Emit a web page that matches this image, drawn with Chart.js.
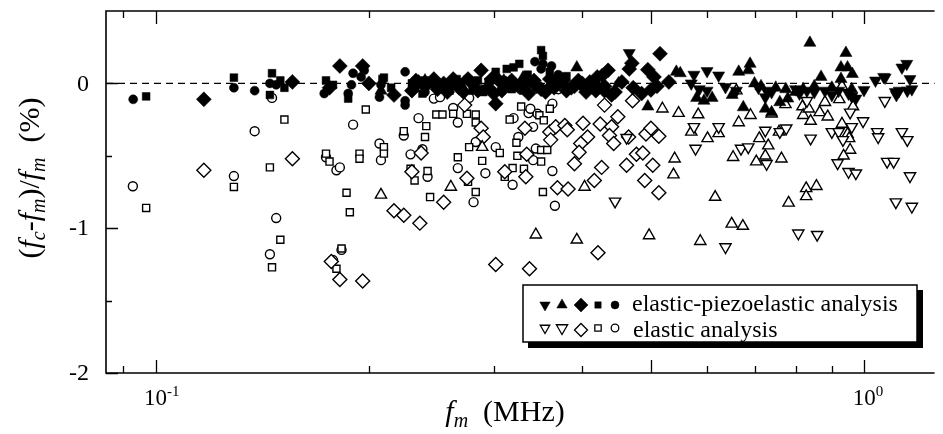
<!DOCTYPE html>
<html>
<head>
<meta charset="utf-8">
<script src="https://cdn.jsdelivr.net/npm/chart.js@4/dist/chart.umd.min.js"></script>
<style>
  html, body { margin: 0; padding: 0; background: #fff; overflow: hidden; }
  #wrap { width: 943px; height: 434px; }
</style>
</head>
<body>
<div id="wrap"><canvas id="c" width="943" height="434"></canvas></div>
<script>
// axis ranges and ticks
var xMin = 0.08514, xMax = 1.2566;
var yMin = -2, yMax = 0.5;
var xLongTicks = [0.1, 0.5, 1];
var xShortTicks = [0.09, 0.2, 0.3, 0.4, 0.6, 0.7, 0.8, 0.9];
var xTickLabels = [[0.1, '-1'], [1, '0']];
var yMajorTicks = [0, -1, -2];
var yMinorTicks = [-0.5, -1.5];

// elastic-piezoelastic analysis (filled) : [f_m (MHz), deviation (%)]
var epCircle = [[0.093,-0.11],[0.129,-0.03],[0.138,-0.05],[0.145,0.0],[0.148,-0.01],[0.173,-0.07],
  [0.187,-0.07],[0.19,0.07],[0.189,-0.01],[0.195,0.045],[0.197,0.09],[0.207,-0.095],[0.208,-0.01],
  [0.225,0.08],[0.225,-0.15],[0.225,-0.12],[0.232,-0.03],[0.245,0.0],[0.26,-0.02],[0.275,0.03],
  [0.29,-0.04],[0.31,0.02],[0.333,0.03],[0.343,0.15],[0.352,0.135],[0.362,0.12],[0.35,0.1],
  [0.37,0.06],[0.36,-0.02],[0.384,-0.03],[0.41,0.0],[0.24,-0.06],[0.3,0.04],[0.345,-0.03]];
var epSquare = [[0.097,-0.09],[0.129,0.04],[0.146,0.07],[0.145,-0.08],[0.15,0.02],[0.152,-0.03],
  [0.174,0.02],[0.178,-0.01],[0.187,-0.105],[0.21,0.04],[0.209,0.03],[0.215,-0.03],[0.24,0.02],
  [0.255,-0.02],[0.266,0.03],[0.28,-0.05],[0.302,0.08],[0.313,0.1],[0.32,0.11],[0.326,0.135],
  [0.35,0.23],[0.352,0.19],[0.34,0.0],[0.318,-0.04],[0.295,0.01],[0.36,0.08],[0.38,0.05],
  [0.23,0.0],[0.26,-0.05],[0.285,0.02],[0.33,-0.05],[0.365,-0.01],[0.238,-0.07],[0.27,0.0],
  [0.29,-0.06],[0.31,-0.02],[0.335,0.06]];
var epDiamond = [[0.117,-0.11],[0.156,0.01],[0.182,0.12],[0.196,0.12],[0.176,-0.03],[0.2,0.0],
  [0.217,-0.08],[0.235,0.01],[0.25,-0.04],[0.263,0.03],[0.272,-0.06],[0.288,0.09],[0.3,-0.07],
  [0.302,-0.14],[0.312,0.0],[0.336,-0.07],[0.345,-0.02],[0.37,0.0],[0.39,-0.02],[0.4,0.0],
  [0.405,-0.06],[0.418,-0.05],[0.42,0.045],[0.435,0.09],[0.43,-0.02],[0.427,0.055],[0.445,-0.06],
  [0.455,0.01],[0.466,0.10],[0.47,0.14],[0.472,-0.03],[0.485,-0.07],[0.495,0.095],[0.5,-0.045],
  [0.505,0.045],[0.515,0.205],[0.51,-0.02],[0.53,0.01],[0.44,-0.08],[0.23,-0.05],[0.24,-0.02],
  [0.255,0.0],[0.268,-0.03],[0.28,0.0],[0.295,-0.03],[0.305,0.02],[0.325,-0.02],[0.35,-0.04],
  [0.36,0.03],[0.38,-0.05],[0.395,0.02],[0.41,0.01],[0.43,-0.05],[0.233,0.02],[0.247,0.03],
  [0.258,-0.06],[0.276,0.03],[0.285,-0.05],[0.298,0.03],[0.308,-0.05],[0.318,0.02],[0.33,-0.01],
  [0.342,0.02],[0.355,-0.06],[0.365,-0.03],[0.376,0.02],[0.386,-0.03],[0.403,-0.03],[0.415,0.0]];
var epUp = [[0.208,-0.05],[0.24,0.02],[0.27,-0.01],[0.31,0.02],[0.32,-0.03],[0.33,0.04],[0.393,0.11],
  [0.37,0.03],[0.45,0.0],[0.495,-0.16],[0.543,0.08],[0.55,0.07],[0.58,-0.1],[0.594,-0.12],[0.61,-0.1],
  [0.651,-0.08],[0.665,0.08],[0.69,0.135],[0.686,0.09],[0.675,-0.165],[0.7,0.0],[0.715,-0.02],
  [0.725,-0.175],[0.74,-0.2],[0.75,-0.03],[0.76,-0.13],[0.78,-0.105],[0.775,-0.04],[0.838,0.28],
  [0.869,0.045],[0.942,0.21],[0.927,0.11],[0.947,0.11],[0.962,0.065],[0.927,0.03],[0.9,-0.03],
  [0.85,-0.02],[0.82,-0.04],[0.8,-0.06],[0.96,-0.04]];
var epDown = [[0.466,0.21],[0.575,0.06],[0.6,0.085],[0.57,0.0],[0.585,-0.04],[0.623,0.055],
  [0.637,-0.025],[0.66,-0.05],[0.709,-0.03],[0.728,-0.05],[0.725,-0.095],[0.74,-0.06],[0.8,-0.04],
  [0.81,-0.07],[0.83,-0.05],[0.85,-0.06],[0.88,-0.05],[0.9,-0.08],[0.92,-0.05],[0.95,-0.07],
  [0.96,-0.09],[0.973,-0.105],[0.999,-0.045],[1.037,0.02],[1.065,0.045],[1.07,0.04],[1.106,-0.06],
  [1.12,-0.05],[1.13,0.11],[1.148,0.135],[1.16,0.03],[1.15,-0.05],[1.167,-0.04],[1.11,-0.08],[0.6,-0.05]];

// elastic analysis (open)
var eCircle = [[0.0929,-0.71],[0.138,-0.33],[0.146,-0.10],[0.129,-0.64],[0.148,-0.93],[0.145,-1.18],
  [0.19,-0.285],[0.174,-0.51],[0.18,-0.60],[0.182,-0.58],[0.207,-0.415],[0.208,-0.53],[0.235,-0.24],
  [0.224,-0.36],[0.229,-0.49],[0.238,-0.455],[0.242,-0.645],[0.247,-0.105],[0.252,-0.095],
  [0.263,-0.17],[0.267,-0.27],[0.277,-0.10],[0.283,-0.405],[0.302,-0.44],[0.267,-0.585],
  [0.292,-0.62],[0.281,-0.82],[0.319,-0.70],[0.325,-0.37],[0.32,-0.24],[0.336,-0.205],[0.338,-0.175],
  [0.341,-0.30],[0.346,-0.21],[0.363,-0.14],[0.35,-0.035],[0.344,-0.45],[0.341,-0.53],[0.363,-0.605],
  [0.366,-0.845],[0.183,-1.15],[0.178,-1.22],[0.37,-0.04]];
var eSquare = [[0.097,-0.86],[0.129,-0.715],[0.145,-0.58],[0.152,-0.25],[0.150,-1.08],[0.146,-1.27],
  [0.198,-0.18],[0.174,-0.485],[0.176,-0.54],[0.194,-0.485],[0.194,-0.52],[0.186,-0.755],[0.188,-0.89],
  [0.21,-0.44],[0.21,-0.485],[0.224,-0.33],[0.241,-0.295],[0.24,-0.37],[0.229,-0.59],[0.232,-0.67],
  [0.242,-0.605],[0.244,-0.785],[0.249,-0.215],[0.254,-0.215],[0.263,-0.21],[0.275,-0.21],
  [0.283,-0.215],[0.283,-0.27],[0.277,-0.44],[0.306,-0.48],[0.267,-0.51],[0.289,-0.535],[0.276,-0.68],
  [0.283,-0.75],[0.311,-0.645],[0.319,-0.585],[0.331,-0.59],[0.324,-0.50],[0.323,-0.41],[0.316,-0.25],
  [0.328,-0.16],[0.348,-0.22],[0.353,-0.255],[0.36,-0.175],[0.35,-0.46],[0.357,-0.46],[0.35,-0.54],
  [0.352,-0.75],[0.183,-1.14],[0.18,-1.28]];
var eDiamond = [[0.117,-0.60],[0.156,-0.52],[0.217,-0.88],[0.224,-0.91],[0.236,-0.965],[0.237,-0.48],
  [0.23,-0.61],[0.255,-0.82],[0.273,-0.15],[0.288,-0.31],[0.29,-0.37],[0.275,-0.655],[0.311,-0.61],
  [0.333,-0.645],[0.334,-0.49],[0.332,-0.31],[0.36,-0.335],[0.361,-0.39],[0.367,-0.30],[0.378,-0.29],
  [0.381,-0.32],[0.369,-0.72],[0.382,-0.73],[0.39,-0.555],[0.401,-0.275],[0.407,-0.37],[0.398,-0.415],
  [0.396,-0.475],[0.424,-0.28],[0.43,-0.15],[0.426,-0.58],[0.416,-0.67],[0.44,-0.30],[0.437,-0.36],
  [0.443,-0.415],[0.449,-0.23],[0.471,-0.12],[0.465,-0.37],[0.492,-0.35],[0.5,-0.31],[0.513,-0.365],
  [0.477,-0.49],[0.487,-0.48],[0.462,-0.565],[0.503,-0.565],[0.49,-0.67],[0.513,-0.755],[0.302,-1.25],
  [0.337,-1.28],[0.421,-1.17],[0.177,-1.23],[0.182,-1.355],[0.196,-1.365]];
var eUp = [[0.208,-0.77],[0.261,-0.715],[0.289,-0.44],[0.403,-0.715],[0.344,-1.045],[0.393,-1.08],
  [0.519,-0.175],[0.547,-0.205],[0.583,-0.215],[0.57,-0.335],[0.601,-0.38],[0.623,-0.345],[0.54,-0.52],
  [0.538,-0.63],[0.616,-0.785],[0.497,-1.05],[0.587,-1.09],[0.65,-0.97],[0.674,-0.985],[0.665,-0.27],
  [0.691,-0.22],[0.653,-0.51],[0.711,-0.38],[0.732,-0.43],[0.725,-0.50],[0.704,-0.54],[0.764,-0.52],
  [0.758,-0.335],[0.74,-0.21],[0.774,-0.145],[0.818,-0.16],[0.82,-0.22],[0.84,-0.26],[0.835,-0.175],
  [0.865,-0.2],[0.88,-0.13],[0.888,-0.23],[0.93,-0.28],[0.922,-0.11],[0.964,-0.16],[0.947,-0.35],
  [0.952,-0.38],[0.955,-0.46],[0.935,-0.50],[0.782,-0.825],[0.828,-0.725],[0.828,-0.78],[0.856,-0.71],
  [0.66,-0.05],[0.93,-0.02]];
var eDown = [[0.445,-0.815],[0.462,-0.375],[0.575,-0.30],[0.578,-0.45],[0.623,-0.30],[0.67,-0.45],
  [0.686,-0.44],[0.725,-0.325],[0.728,-0.555],[0.76,-0.335],[0.776,-0.31],[0.83,-0.12],[0.84,-0.38],
  [0.9,-0.335],[0.92,-0.335],[0.955,-0.2],[0.96,-0.30],[0.996,-0.26],[0.933,-0.39],[0.917,-0.55],
  [0.95,-0.61],[0.973,-0.62],[1.043,-0.335],[1.046,-0.37],[1.069,-0.12],[1.13,-0.335],[1.15,-0.39],
  [1.077,-0.54],[1.1,-0.54],[1.16,-0.64],[1.108,-0.82],[1.167,-0.85],[0.637,-1.13],[0.807,-1.035],
  [0.858,-1.045]];

var SERIF = '"Liberation Serif", "Times New Roman", serif';

function toXY(arr) {
    return arr.map(function (p) { return {x: p[0], y: p[1]}; });
}

function filledSet(arr, style, r, rot) {
    return {
        data: toXY(arr), pointStyle: style, pointRadius: r, pointRotation: rot || 0,
        backgroundColor: '#000', borderColor: '#000', borderWidth: 0.5
    };
}
function openSet(arr, style, r, rot) {
    return {
        data: toXY(arr), pointStyle: style, pointRadius: r, pointRotation: rot || 0,
        backgroundColor: '#fff', borderColor: '#000', borderWidth: 1.4
    };
}

// draw text made of several runs (italic, subscript, ...)
function runsWidth(ctx, runs) {
    var w = 0;
    runs.forEach(function (r) { ctx.font = r.font; w += ctx.measureText(r.t).width; });
    return w;
}
function drawRuns(ctx, runs, x, y) {
    var cx = x - runsWidth(ctx, runs) / 2;
    runs.forEach(function (r) {
        ctx.font = r.font;
        ctx.fillText(r.t, cx, y + (r.dy || 0));
        cx += ctx.measureText(r.t).width;
    });
}

var decorPlugin = {
    id: 'decor',
    beforeDatasetsDraw: function (chart) {
        var ctx = chart.ctx, a = chart.chartArea, ys = chart.scales.y;
        var y0 = ys.getPixelForValue(0);
        ctx.save();
        ctx.strokeStyle = '#000';
        ctx.lineWidth = 1.2;
        ctx.setLineDash([7, 5]);
        ctx.beginPath();
        ctx.moveTo(a.left, y0);
        ctx.lineTo(a.right, y0);
        ctx.stroke();
        ctx.restore();
    },
    afterDraw: function (chart) {
        var ctx = chart.ctx, a = chart.chartArea;
        var xs = chart.scales.x, ys = chart.scales.y;
        ctx.save();
        ctx.strokeStyle = '#000';
        ctx.fillStyle = '#000';
        ctx.lineWidth = 1.6;

        // frame: left, top, bottom
        ctx.beginPath();
        ctx.moveTo(a.right, a.top); ctx.lineTo(a.left, a.top);
        ctx.lineTo(a.left, a.bottom); ctx.lineTo(a.right, a.bottom);
        ctx.stroke();

        // x ticks, inward on top and bottom
        ctx.lineWidth = 1.3;
        ctx.beginPath();
        xLongTicks.forEach(function (v) {
            var px = Math.round(xs.getPixelForValue(v)) + 0.5;
            ctx.moveTo(px, a.top); ctx.lineTo(px, a.top + 13);
            ctx.moveTo(px, a.bottom); ctx.lineTo(px, a.bottom - 13);
        });
        xShortTicks.forEach(function (v) {
            var px = Math.round(xs.getPixelForValue(v)) + 0.5;
            ctx.moveTo(px, a.top); ctx.lineTo(px, a.top + 7);
            ctx.moveTo(px, a.bottom); ctx.lineTo(px, a.bottom - 7);
        });
        // y ticks on left
        yMajorTicks.forEach(function (v) {
            var py = Math.round(ys.getPixelForValue(v)) + 0.5;
            ctx.moveTo(a.left, py); ctx.lineTo(a.left + 12, py);
        });
        yMinorTicks.forEach(function (v) {
            var py = Math.round(ys.getPixelForValue(v)) + 0.5;
            ctx.moveTo(a.left, py); ctx.lineTo(a.left + 6, py);
        });
        ctx.stroke();

        // y tick labels
        ctx.font = '24px ' + SERIF;
        ctx.textAlign = 'right';
        ctx.textBaseline = 'middle';
        yMajorTicks.forEach(function (v) {
            ctx.fillText(String(v), a.left - 17, ys.getPixelForValue(v) + 1);
        });

        // x tick labels 10^n
        ctx.textAlign = 'left';
        ctx.textBaseline = 'alphabetic';
        xTickLabels.forEach(function (t) {
            var px = xs.getPixelForValue(t[0]);
            ctx.font = '23px ' + SERIF;
            var w = ctx.measureText('10').width;
            ctx.fillText('10', px - w / 2, 405);
            ctx.font = '15px ' + SERIF;
            ctx.fillText(t[1], px + w / 2, 396);
        });

        // x axis title
        var big = '30px ' + SERIF, bigI = 'italic 30px ' + SERIF, subI = 'italic 20px ' + SERIF;
        drawRuns(ctx, [
            {t: 'f', font: bigI}, {t: 'm', font: subI, dy: 6}, {t: '  (MHz)', font: big}
        ], 505, 421);

        // y axis title
        ctx.save();
        ctx.translate(39, 178);
        ctx.rotate(-Math.PI / 2);
        drawRuns(ctx, [
            {t: '(', font: big}, {t: 'f', font: bigI}, {t: 'c', font: subI, dy: 6},
            {t: '-', font: big}, {t: 'f', font: bigI}, {t: 'm', font: subI, dy: 6},
            {t: ')/', font: big}, {t: 'f', font: bigI}, {t: 'm', font: subI, dy: 6},
            {t: '  (%)', font: big}
        ], 0, 0);
        ctx.restore();

        // legend box with shadow
        var lx = 523, ly = 285, lw = 394, lh = 57;
        ctx.fillRect(lx + 5, ly + lh, lw, 6);
        ctx.fillRect(lx + lw, ly + 5, 6, lh + 1);
        ctx.fillStyle = '#fff';
        ctx.fillRect(lx, ly, lw, lh);
        ctx.fillStyle = '#000';
        ctx.lineWidth = 1.5;
        ctx.strokeRect(lx, ly, lw, lh);

        var symX = [545, 562, 581, 598, 615];
        var row1 = [['triangle', 6, 180], ['triangle', 6, 0], ['rectRot', 7, 0], ['rect', 4.5, 0], ['circle', 4, 0]];
        var row2 = [['triangle', 5.5, 180], ['triangle', 6.5, 180], ['rectRot', 6.5, 0], ['rect', 4.5, 0], ['circle', 3.8, 0]];
        row1.forEach(function (s, i) {
            ctx.fillStyle = '#000';
            ctx.lineWidth = 0.5;
            Chart.helpers.drawPoint(ctx, {pointStyle: s[0], radius: s[1], rotation: s[2], borderWidth: 0.5}, symX[i], 305);
        });
        row2.forEach(function (s, i) {
            ctx.fillStyle = '#fff';
            ctx.lineWidth = 1.3;
            Chart.helpers.drawPoint(ctx, {pointStyle: s[0], radius: s[1], rotation: s[2], borderWidth: 1.3}, symX[i], i === 2 ? 330 : 328);
        });
        ctx.fillStyle = '#000';
        ctx.font = '24px ' + SERIF;
        ctx.fillText('elastic-piezoelastic analysis', 632, 311);
        ctx.fillText('elastic analysis', 633, 337);
        ctx.restore();
    }
};

new Chart(document.getElementById('c'), {
    type: 'scatter',
    data: {
        datasets: [
            filledSet(epDown, 'triangle', 7, 180),
            filledSet(epUp, 'triangle', 7, 0),
            filledSet(epDiamond, 'rectRot', 7.5, 0),
            filledSet(epSquare, 'rect', 5.5, 0),
            filledSet(epCircle, 'circle', 4.5, 0),
            openSet(eDown, 'triangle', 6.5, 180),
            openSet(eUp, 'triangle', 6.5, 0),
            openSet(eDiamond, 'rectRot', 7, 0),
            openSet(eSquare, 'rect', 5, 0),
            openSet(eCircle, 'circle', 4.5, 0)
        ]
    },
    options: {
        responsive: false,
        animation: false,
        devicePixelRatio: 1,
        layout: {padding: {left: 106, top: 11, right: 0, bottom: 61}},
        plugins: {legend: {display: false}, tooltip: {enabled: false}},
        scales: {
            x: {type: 'logarithmic', min: xMin, max: xMax, display: false},
            y: {type: 'linear', min: yMin, max: yMax, display: false}
        }
    },
    plugins: [decorPlugin]
});
</script>
</body>
</html>
